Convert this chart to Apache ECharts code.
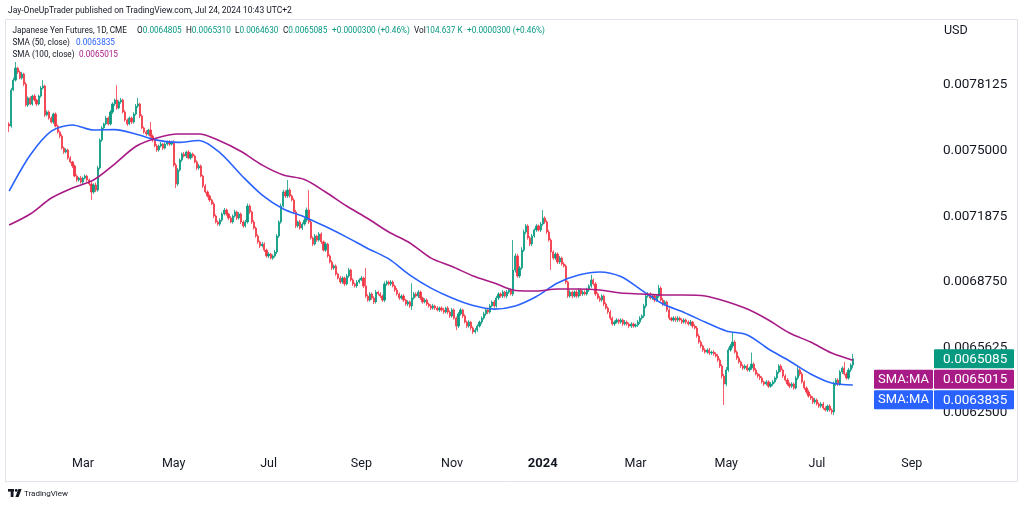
<!DOCTYPE html>
<html><head><meta charset="utf-8">
<script src="https://cdn.jsdelivr.net/npm/echarts@6/dist/echarts.min.js"></script>
<style>html,body{margin:0;padding:0;background:#fff;}#c{width:1024px;height:506px;}</style>
</head><body><div id="c"></div>
<script>
// ---- DATA (prices in millionths: 7617 -> 0.007617) ----
const firstOpen = 7627;
const closes = [
7617,7789,7836,7893,7874,7846,7865,7817,7717,7751,7722,7760,7741,7722,7760,7798,7808,7670,7684,7655,
7636,7674,7617,7589,7569,7512,7493,7503,7465,7446,7427,7379,7360,7369,7350,7369,7379,7360,7341,7303,
7336,7312,7417,7550,7608,7627,7655,7627,7684,7722,7741,7703,7732,7741,7684,7646,7627,7655,7636,7674,
7712,7722,7665,7608,7589,7579,7598,7569,7550,7522,7503,7522,7531,7512,7531,7541,7531,7541,7431,7341,
7408,7455,7484,7474,7493,7465,7484,7474,7446,7417,7427,7379,7331,7303,7284,7265,7246,7188,7160,7150,
7169,7198,7217,7198,7179,7160,7188,7208,7179,7198,7160,7141,7160,7236,7208,7160,7131,7093,7065,7046,
7055,7026,6998,7007,6988,6998,7017,7093,7160,7236,7303,7284,7312,7284,7265,7208,7141,7160,7131,7150,
7169,7217,7160,7084,7055,7093,7074,7103,7065,7026,7055,6998,6969,6941,6950,6912,6893,6874,6893,6865,
6903,6931,6884,6865,6855,6874,6884,6893,6855,6807,6788,6817,6798,6779,6826,6817,6807,6788,6865,6874,
6865,6874,6855,6836,6817,6798,6807,6788,6769,6779,6760,6798,6817,6807,6826,6798,6779,6788,6769,6760,
6750,6760,6750,6741,6750,6741,6731,6750,6731,6712,6741,6702,6664,6722,6741,6712,6683,6664,6683,6655,
6636,6645,6664,6683,6702,6722,6741,6731,6760,6779,6760,6798,6817,6807,6826,6807,6826,6836,6817,6931,
6998,6903,6941,7026,7112,7141,7084,7055,7093,7122,7141,7122,7150,7179,7160,7112,7074,7017,6988,7007,
6969,6988,6960,6950,6874,6807,6826,6807,6826,6807,6836,6817,6826,6817,6836,6855,6884,6865,6817,6798,
6788,6807,6769,6750,6731,6702,6674,6683,6693,6683,6693,6674,6683,6674,6664,6674,6664,6669,6683,6702,
6712,6760,6807,6817,6798,6807,6788,6807,6845,6788,6769,6779,6741,6702,6693,6702,6693,6702,6693,6683,
6693,6683,6674,6683,6664,6655,6617,6588,6569,6550,6540,6550,6536,6540,6531,6521,6502,6474,6426,6388,
6455,6550,6569,6588,6540,6512,6493,6474,6464,6474,6455,6464,6483,6455,6436,6426,6417,6398,6388,6398,
6378,6388,6398,6417,6445,6474,6455,6426,6407,6388,6378,6388,6369,6417,6455,6436,6398,6369,6350,6331,
6321,6302,6312,6293,6283,6293,6274,6264,6283,6264,6255,6388,6407,6388,6445,6464,6436,6417,6455,6478.5,
6508.5];
const upperWicks = [
8,10,12,29,6,8,10,6,9,7,8,6,9,5,7,10,28,6,8,7,
9,6,8,7,6,10,7,8,6,9,5,7,8,6,10,7,8,6,7,9,
8,12,10,8,9,6,10,7,9,8,6,70,8,10,6,9,7,8,6,9,
10,29,6,8,7,9,6,38,8,6,9,7,10,6,8,7,9,6,8,10,
9,8,7,10,6,9,8,7,6,8,10,7,6,9,8,7,6,10,8,7,
9,8,10,7,6,9,8,10,6,9,7,8,10,12,8,6,9,7,8,6,
10,8,7,9,6,8,10,9,8,12,10,8,48,9,7,8,10,6,9,8,
10,12,95,8,7,10,6,9,8,7,10,6,8,9,7,8,6,10,8,7,
9,10,6,8,7,9,8,10,6,86,8,9,7,8,10,6,9,7,12,8,
7,9,8,6,10,7,8,9,6,8,7,70,9,8,10,7,6,9,8,7,
8,10,6,9,7,8,10,6,9,8,10,7,8,9,10,6,8,7,9,6,
8,10,9,7,8,10,9,8,10,7,9,10,8,7,9,6,10,8,7,143,
12,10,9,14,12,10,8,9,10,8,9,7,10,38,8,9,10,8,7,9,
8,10,7,9,8,6,9,7,8,10,9,7,8,9,10,8,24,7,9,8,
10,8,7,9,8,10,7,8,9,6,8,7,10,8,7,9,6,8,10,9,
8,10,12,9,8,10,7,9,15,8,10,9,7,8,6,9,8,10,7,8,
9,7,8,10,6,8,9,10,8,7,9,8,10,7,9,8,10,8,9,10,
14,12,10,43,9,8,10,7,9,8,10,7,55,8,9,7,10,8,6,9,
8,10,9,7,10,9,8,7,9,10,8,9,7,10,23,8,9,7,8,10,
8,9,10,7,8,9,10,8,7,9,8,12,10,9,10,8,29,9,10,8,
22.5];
const lowerWicks = [
28,8,6,7,9,6,8,10,7,9,6,8,7,10,6,8,7,9,6,8,
7,9,6,8,10,7,9,6,8,7,10,6,9,8,7,10,6,8,9,38,
9,10,8,7,9,10,6,8,7,9,10,8,6,9,7,8,10,6,9,8,
7,9,10,6,8,9,7,8,10,6,9,8,7,10,6,8,9,7,8,19,
10,8,9,7,10,6,8,9,7,10,8,6,9,7,8,10,6,9,7,8,
10,8,7,9,10,6,8,7,9,8,10,9,7,8,10,9,7,8,9,10,
7,9,8,10,6,9,8,10,9,8,7,10,9,8,7,9,10,8,7,9,
8,10,9,8,10,7,9,8,10,6,9,8,7,10,9,8,7,9,8,10,
7,9,8,10,7,9,8,6,10,9,8,7,9,10,8,7,9,8,10,9,
8,10,7,9,8,10,7,9,8,10,9,19,8,7,9,10,8,7,9,8,
10,8,9,7,10,8,9,7,10,9,8,7,19,9,8,10,7,9,8,10,
10,8,9,7,10,8,9,10,8,7,9,8,10,7,9,8,10,9,7,10,
12,9,10,8,9,10,8,9,10,8,9,7,10,8,9,10,8,86,9,8,
10,9,8,7,10,9,8,10,7,9,8,10,9,7,8,10,9,8,10,7,
9,8,10,7,9,10,8,9,7,10,8,9,7,8,10,9,8,7,9,10,
8,9,10,8,7,9,10,8,9,7,10,8,9,10,7,8,9,10,8,9,
7,10,8,9,10,7,9,8,10,9,7,8,10,9,8,7,9,10,12,100,
10,9,8,10,7,9,8,10,9,7,8,10,9,8,7,9,10,8,9,7,
9,8,10,7,9,8,10,9,7,8,10,9,8,7,10,9,8,9,10,8,
9,10,8,7,9,10,8,7,9,8,12,15,9,10,8,9,7,8,9,10,
15.5];
// SMA values read every 10th bar (bar 0, 10, 20, ... 400)
const sma50 = [7307,7479,7593,7622,7598,7600,7579,7550,7539,7548,7489,7384,7288,7222,7184,7138,7088,7034,6984,6907,6845,6798,6762,6745,6760,6805,6869,6907,6922,6900,6834,6769,6729,6683,6641,6622,6555,6498,6436,6393,6383.5];
const sma100 = [7145.5,7198,7274,7322,7360,7436,7519.5,7560,7579,7579,7546,7496,7431,7384,7362,7303,7236,7176.5,7112,7060,6988,6948,6902.5,6869,6833.5,6831,6840.5,6840.5,6836,6821.5,6817,6812,6812,6807,6781,6745,6693,6631,6588,6535.5,6501.5];
const smaStep = 10;
const futureBars = 38;
const priceTicks = [0.00625, 0.0065625, 0.006875, 0.0071875, 0.0075, 0.0078125];
const monthNames = ['Jan','Feb','Mar','Apr','May','Jun','Jul','Aug','Sep','Oct','Nov','Dec'];
const lastBarKeys = ['O','H','L','C'];
const lastBarVals = ['0.0064805','0.0065310','0.0064630','0.0065085'];
const lastChange = '+0.0000300 (+0.46%)';
const lastVolume = '104.637 K';
const headerText = 'Jay-OneUpTrader published on TradingView.com, Jul 24, 2024 10:43 UTC+2';
const instrumentText = 'Japanese Yen Futures, 1D, CME';
const sma50Label = 'SMA (50, close)';
const sma100Label = 'SMA (100, close)';

// ---- BUILD ----
const UNIT = 1e-6;
const UP = '#089981', DOWN = '#f23645', BLUE = '#2962ff', MAG = '#a81a85', TXT = '#131722';
const FONT = 'Roboto, "Noto Sans", sans-serif';

const cats = [];
{
  let t = Date.UTC(2023, 0, 10);
  const total = 1 + closes.length + futureBars;
  while (cats.length < total) {
    const d = new Date(t);
    const wd = d.getUTCDay();
    if (wd !== 0 && wd !== 6) cats.push(d.toISOString().slice(0, 10));
    t += 86400000;
  }
}
const candleData = closes.map((c, i) => {
  const o = i === 0 ? firstOpen : closes[i - 1];
  const hi = Math.max(o, c) + upperWicks[i];
  const lo = Math.min(o, c) - lowerWicks[i];
  return [i + 1, o * UNIT, c * UNIT, lo * UNIT, hi * UNIT];
});
const smaPts = arr => arr.map((v, k) => [1 + k * smaStep, v * UNIT]);

const monthOf = s => parseInt(s.slice(5, 7), 10) - 1;
const showLabel = idx => idx > 0 && monthOf(cats[idx]) !== monthOf(cats[idx - 1]) && monthOf(cats[idx]) % 2 === 0;

const chart = echarts.init(document.getElementById('c'), null, {renderer: 'canvas'});
const lastClose = closes[closes.length - 1] * UNIT;

chart.setOption({
  animation: false,
  backgroundColor: '#ffffff',
  grid: {left: 6, right: 90, top: 19.4, bottom: 27.4, containLabel: false},
  xAxis: {
    type: 'category', data: cats, boundaryGap: true, offset: -25,
    axisLine: {show: false}, axisTick: {show: false}, splitLine: {show: false},
    axisLabel: {
      interval: (idx) => showLabel(idx), margin: 4, color: TXT, fontSize: 12.5, fontFamily: FONT,
      formatter: (v) => { const m = monthOf(v); return m === 0 ? '{y|' + v.slice(0, 4) + '}' : monthNames[m]; },
      rich: {y: {fontWeight: 'bold', fontSize: 13, color: TXT, fontFamily: FONT}}
    }
  },
  yAxis: {
    type: 'value', position: 'right', min: 0.0059375, max: 0.008125, interval: 0.0003125, scale: true,
    axisLine: {show: false}, axisTick: {show: false}, splitLine: {show: false},
    axisLabel: {
      margin: 9, color: TXT, fontSize: 13.5, fontFamily: FONT, showMinLabel: false, showMaxLabel: false,
      formatter: (v) => priceTicks.some(t => Math.abs(t - v) < 1e-9) ? v.toFixed(7) : ''
    }
  },
  series: [
    {
      type: 'candlestick', data: candleData, encode: {x: 0, y: [1, 2, 3, 4]}, barWidth: 1.7,
      itemStyle: {color: UP, color0: DOWN, borderColor: UP, borderColor0: DOWN, borderWidth: 0.8},
      markLine: {silent: true, symbol: ['none', 'none'], label: {show: false},
        lineStyle: {color: UP, type: 'dotted', width: 1, opacity: 0.7},
        data: [{yAxis: lastClose}]}
    },
    {type: 'line', data: smaPts(sma50), smooth: 0.3, showSymbol: false, lineStyle: {color: BLUE, width: 1.6}},
    {type: 'line', data: smaPts(sma100), smooth: 0.3, showSymbol: false, lineStyle: {color: MAG, width: 1.6}}
  ]
});

// ---- price labels on the right scale ----
const yPix = v => chart.convertToPixel({yAxisIndex: 0}, v);
const labels = [
  {v: lastClose, color: UP, tag: null},
  {v: sma100[sma100.length - 1] * UNIT, color: MAG, tag: 'SMA:MA'},
  {v: sma50[sma50.length - 1] * UNIT, color: BLUE, tag: 'SMA:MA'}
].map(o => Object.assign(o, {y: yPix(o.v)})).sort((a, b) => a.y - b.y);
const H = 19, GAP = 1.5;
let prevBottom = -1e9;
labels.forEach(o => { let top = o.y - H / 2; if (top < prevBottom + GAP) top = prevBottom + GAP; o.top = top; prevBottom = top + H; });

const LF = '8.2px ' + FONT;
const txt = (text, x, y, fill, font, extra) => ({type: 'text', silent: true, z: 100,
  style: Object.assign({text: text, x: x, y: y, fill: fill, font: font, textVerticalAlign: 'middle', verticalAlign: 'middle'}, extra || {})});
const kv = (k, v, x, y) => ({type: 'text', silent: true, z: 100,
  style: {text: '{k|' + k + '}{v|' + v + '}', x: x, y: y, textVerticalAlign: 'middle', verticalAlign: 'middle',
    rich: {k: {fill: TXT, color: TXT, font: LF}, v: {fill: UP, color: UP, font: LF}}}});

const gfx = [
  {type: 'rect', silent: true, z: 1, shape: {x: 5.5, y: 19.5, width: 1012, height: 462}, style: {fill: 'none', stroke: '#e0e3eb', lineWidth: 1}},
  txt(headerText, 8, 10.5, TXT, '8.5px ' + FONT),
  txt(instrumentText, 12.5, 31, TXT, LF),
  kv(lastBarKeys[0], lastBarVals[0], 137, 31),
  kv(lastBarKeys[1], lastBarVals[1], 186, 31),
  kv(lastBarKeys[2], lastBarVals[2], 235, 31),
  kv(lastBarKeys[3], lastBarVals[3], 283, 31),
  txt(lastChange, 332, 31, UP, LF),
  kv('Vol', lastVolume, 414, 31),
  txt(lastChange, 467, 31, UP, LF),
  txt(sma50Label, 12.5, 43, TXT, LF),
  txt((sma50[sma50.length - 1] * UNIT).toFixed(7), 76, 43, BLUE, LF),
  txt(sma100Label, 12.5, 55, TXT, LF),
  txt((sma100[sma100.length - 1] * UNIT).toFixed(7), 79, 55, MAG, LF),
  txt('USD', 944, 31, TXT, '12.5px ' + FONT),
  {type: 'rect', silent: true, z: 100, shape: {x: 8, y: 489, width: 6, height: 2.6}, style: {fill: TXT}},
  {type: 'rect', silent: true, z: 100, shape: {x: 10.7, y: 489, width: 2.8, height: 8}, style: {fill: TXT}},
  {type: 'circle', silent: true, z: 100, shape: {cx: 16.2, cy: 490.4, r: 1.4}, style: {fill: TXT}},
  {type: 'polygon', silent: true, z: 100, shape: {points: [[18.4, 489], [21.6, 489], [18.6, 497], [15.4, 497]]}, style: {fill: TXT}},
  txt('TradingView', 24, 493.5, TXT, '8px ' + FONT)
];
labels.forEach(o => {
  gfx.push({type: 'rect', silent: true, z: 100, shape: {x: 934, y: o.top, width: 80, height: H, r: 1}, style: {fill: o.color}});
  gfx.push(Object.assign(txt(o.v.toFixed(7), 943, o.top + H / 2 + 0.5, '#ffffff', '13.5px ' + FONT), {z: 101}));
  if (o.tag) {
    gfx.push({type: 'rect', silent: true, z: 100, shape: {x: 874, y: o.top, width: 59, height: H, r: 1}, style: {fill: o.color}});
    gfx.push(Object.assign(txt(o.tag, 903.5, o.top + H / 2 + 0.5, '#ffffff', '13px ' + FONT, {textAlign: 'center', align: 'center'}), {z: 101}));
  }
});
chart.setOption({graphic: gfx});
</script>
</body></html>
